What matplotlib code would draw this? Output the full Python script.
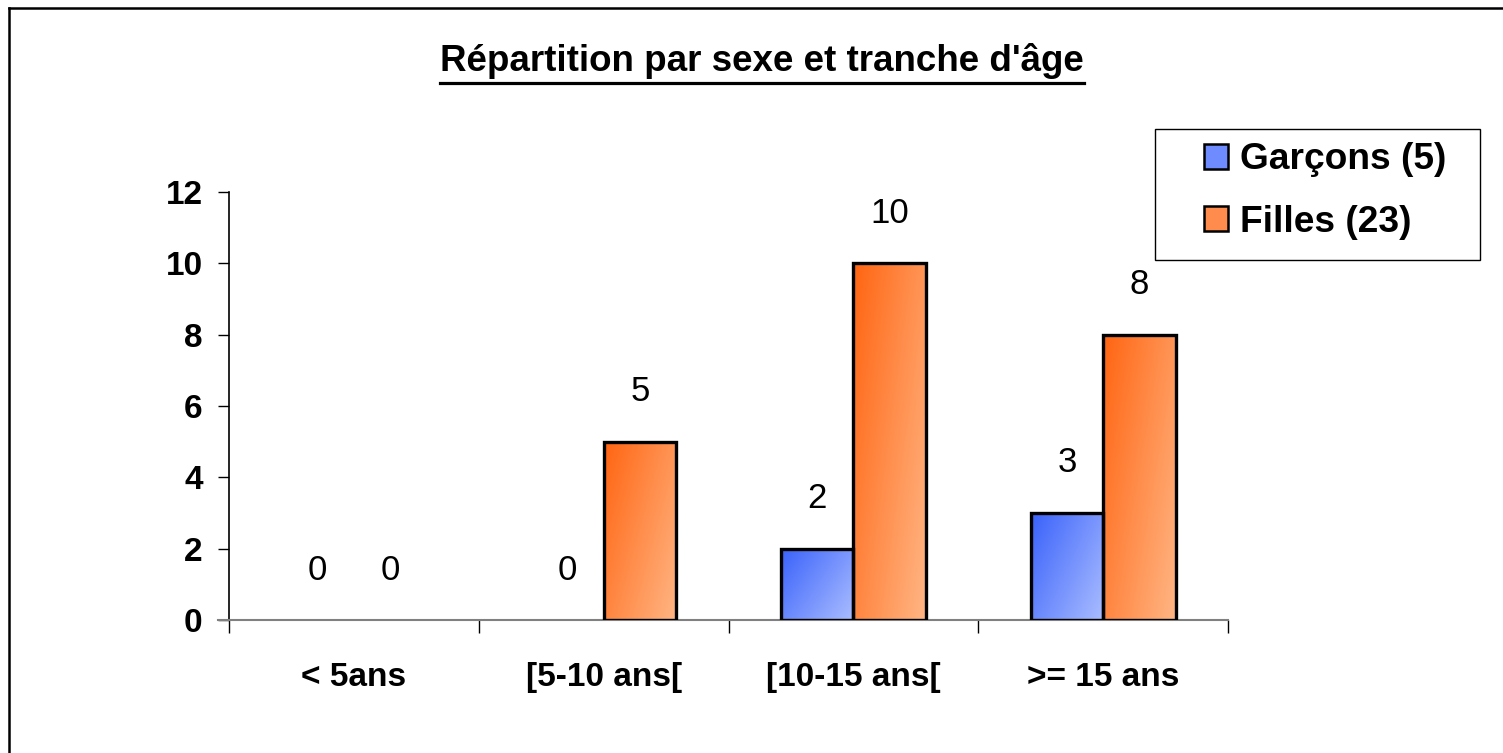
import matplotlib
matplotlib.use('Agg')
import matplotlib.pyplot as plt
import numpy as np
from matplotlib.colors import LinearSegmentedColormap
from matplotlib.lines import Line2D
from matplotlib.patches import Patch, Rectangle

# data
categories = ['< 5ans', '[5-10 ans[', '[10-15 ans[', '>= 15 ans']
garcons = [0, 0, 2, 3]
filles = [0, 5, 10, 8]
series_names = ['Garçons (5)', 'Filles (23)']
title = "Répartition par sexe et tranche d'âge"

plt.rcParams['font.family'] = ['Liberation Sans', 'DejaVu Sans']

blue_cmap = LinearSegmentedColormap.from_list('b', ['#3a62fb', '#aabdff'])
orange_cmap = LinearSegmentedColormap.from_list('o', ['#ff6512', '#ffb584'])

W, H = 1503, 753
fig = plt.figure(figsize=(W/100, H/100), dpi=100)
ax = fig.add_axes([229/W, 1-620/H, (1228-229)/W, (620-192)/H])

x = np.arange(len(categories))
w = 0.29

# gradient: top-left dark, bottom-right light
gx, gy = np.meshgrid(np.linspace(0, 1, 60), np.linspace(0, 1, 60))
grad = 0.6*gx + 0.4*gy


def gradient_bars(bars, cmap):
	for b in bars:
		h = b.get_height()
		if h <= 0:
			b.set_linewidth(0)
			continue
		x0 = b.get_x()
		im = ax.imshow(grad, cmap=cmap, extent=[x0, x0+b.get_width(), 0, h],
					   origin='upper', aspect='auto', zorder=2, vmin=0, vmax=1)
		im.set_clip_path(b)


b1 = ax.bar(x - w/2, garcons, w, facecolor='none', edgecolor='black', linewidth=2.4, zorder=3)
b2 = ax.bar(x + w/2, filles, w, facecolor='none', edgecolor='black', linewidth=2.4, zorder=3)
gradient_bars(b1, blue_cmap)
gradient_bars(b2, orange_cmap)

for xs, vals in ((x - w/2, garcons), (x + w/2, filles)):
	for xi, v in zip(xs, vals):
		ax.annotate(str(v), (xi, v), xytext=(0, 36), textcoords='offset points',
					ha='center', va='center', fontsize=25)

ax.set_xlim(-0.5, 3.5)
ax.set_ylim(0, 12)
ax.set_yticks(range(0, 13, 2))
ax.set_xticks(x)
ax.set_xticklabels(categories, fontsize=24, fontweight='bold')
ax.set_xticks(np.arange(-0.5, 4, 1), minor=True)
ax.tick_params(axis='x', which='major', length=0, pad=30)
ax.tick_params(axis='x', which='minor', length=9, width=1, color='black')
ax.tick_params(axis='y', length=8, width=1, pad=11, labelsize=24)
for lab in ax.get_yticklabels():
	lab.set_fontweight('bold')

ax.spines['top'].set_visible(False)
ax.spines['right'].set_visible(False)
ax.spines['left'].set_linewidth(1.2)
ax.spines['bottom'].set_color('#808080')
ax.spines['bottom'].set_linewidth(1.5)
ax.spines['bottom'].set_bounds(-0.5 - 11/250, 3.5)

# legend: frame drawn by hand, entries without frame
fig.add_artist(Rectangle((1155/W, 1-260/H), (1480-1155)/W, (260-129)/H, transform=fig.transFigure,
						 facecolor='white', edgecolor='black', linewidth=1, zorder=4))
handles = [Patch(facecolor='#6e8cff', edgecolor='black', linewidth=1.8),
		   Patch(facecolor='#ff8c4c', edgecolor='black', linewidth=1.8)]
leg = fig.legend(handles, series_names, loc='center left',
				 bbox_to_anchor=(1204/W, 1-191/H), prop={'weight': 'bold', 'size': 26.7},
				 handlelength=0.65, handleheight=0.65, handletextpad=0.33,
				 borderpad=0, labelspacing=0.73, borderaxespad=0, frameon=False)
leg.set_zorder(5)

t = fig.text(762/W, 1-71/H, title, ha='center', va='baseline', fontsize=26.5, fontweight='bold')

# outer border (top and left)
fig.add_artist(Line2D([9/W, 9/W], [0, 1-8/H], color='black', linewidth=1.8, transform=fig.transFigure))
fig.add_artist(Line2D([9/W, 1], [1-8/H, 1-8/H], color='black', linewidth=1.8, transform=fig.transFigure))

# underline the title
fig.canvas.draw()
bb = t.get_window_extent().transformed(fig.transFigure.inverted())
fig.add_artist(Line2D([bb.x0, bb.x1], [1-83/H, 1-83/H], color='black', linewidth=2.3, transform=fig.transFigure))

fig.savefig('out.png', dpi=100)
